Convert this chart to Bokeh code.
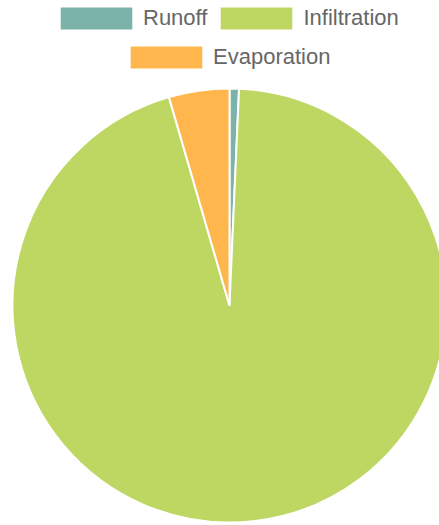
import numpy as np
from bokeh.plotting import figure
from bokeh.models import Range1d, ColumnDataSource, Legend, LegendItem
from bokeh.embed import file_html
from bokeh.resources import INLINE

# ---- data ----
categories = ["Runoff", "Infiltration", "Evaporation"]
values = [0.7, 94.8, 4.5]
colors = ["#7bb3ab", "#bdd762", "#ffb64d"]

W, H = 439, 525
cx, cy, R = 229, 220, 217

vals = np.array(values, dtype=float)
frac = vals / vals.sum()
cum_end = np.cumsum(frac)
cum_start = cum_end - frac
start = np.pi / 2 - cum_start * 2 * np.pi
end = np.pi / 2 - cum_end * 2 * np.pi

src = ColumnDataSource(dict(cat=categories, val=values, color=colors,
                            start=start, end=end))

p = figure(width=W, height=H, output_backend="svg", toolbar_location=None,
           x_range=Range1d(0, W), y_range=Range1d(0, H),
           x_axis_type=None, y_axis_type=None, min_border=0)
p.grid.visible = False
p.outline_line_color = None
p.background_fill_color = "white"

r = p.wedge(x=cx, y=cy, radius=R, start_angle="start", end_angle="end",
            direction="clock", fill_color="color", line_color="white",
            line_width=2, source=src)

common = dict(glyph_width=92, glyph_height=30, label_height=30,
              label_standoff=1, spacing=3, padding=0, margin=0,
              border_line_color=None, background_fill_alpha=0,
              label_text_font="Liberation Sans", label_text_font_size="22px",
              label_text_color="#666666", orientation="horizontal")

leg1 = Legend(items=[LegendItem(label=categories[0], renderers=[r], index=0),
                     LegendItem(label=categories[1], renderers=[r], index=1)],
              location=(50, H - 33), **common)
leg2 = Legend(items=[LegendItem(label=categories[2], renderers=[r], index=2)],
              location=(120, H - 72), **common)
p.add_layout(leg1)
p.add_layout(leg2)

open("out.html", "w").write(file_html(p, INLINE))
